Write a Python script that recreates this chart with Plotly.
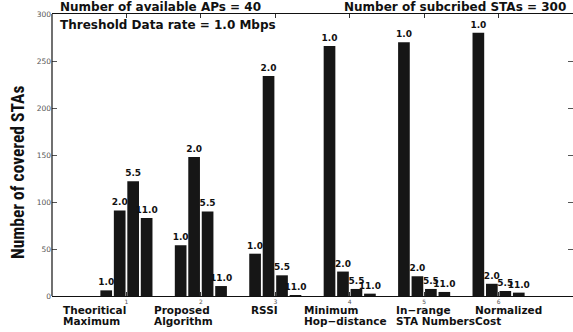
import plotly.graph_objects as go

# Scheme positions on the x axis and their two-line names
groups = [1, 2, 3, 4, 5, 6]
scheme_names = [
    ("Theoritical", "Maximum", 0.12),
    ("Proposed", "Algorithm", 1.35),
    ("RSSI", "", 2.65),
    ("Minimum", "Hop\u2212distance", 3.36),
    ("In\u2212range", "STA Numbers", 4.6),
    ("Normalized", "Cost", 5.66),
]

# Data rates (Mbps) and number of covered STAs per scheme
rate_labels = ["1.0", "2.0", "5.5", "11.0"]
covered_1_0 = [6, 54, 45, 266, 270, 280]
covered_2_0 = [91, 148, 234, 26, 21, 13]
covered_5_5 = [122, 90, 22, 7.5, 7.5, 5.3]
covered_11_0 = [83, 10.6, 1, 2.5, 4.3, 3.6]
series = [covered_1_0, covered_2_0, covered_5_5, covered_11_0]

y_ticks = [0, 50, 100, 150, 200, 250, 300]

BAR = "#161616"
INK = "#111"
LABEL_FONT = dict(family="DejaVu Sans", size=9, color=INK, weight="bold")
NAME_FONT = dict(family="DejaVu Sans", size=10.5, color=INK, weight="bold")
TITLE_FONT = dict(family="DejaVu Sans", size=12, color=INK, weight="bold")

fig = go.Figure()
for label, vals in zip(rate_labels, series):
    fig.add_trace(go.Bar(
        x=groups, y=vals, name=label,
        marker=dict(color=BAR, line=dict(width=0)),
        text=[label] * len(vals),
        textposition="outside",
        textfont=LABEL_FONT,
        constraintext="none",
        cliponaxis=False,
        showlegend=False,
    ))

annotations = [
    dict(text="Number of available APs = 40", xref="paper", yref="paper",
         x=0.012, y=1.0, yshift=7, xanchor="left", yanchor="middle",
         showarrow=False, font=TITLE_FONT),
    dict(text="Number of subcribed STAs = 300", xref="paper", yref="paper",
         x=1.0, y=1.0, yshift=7, xshift=-5, xanchor="right", yanchor="middle",
         showarrow=False, font=TITLE_FONT),
    dict(text="Threshold Data rate = 1.0 Mbps", xref="paper", yref="paper",
         x=0.012, y=1.0, yshift=-11, xanchor="left", yanchor="middle",
         showarrow=False, font=TITLE_FONT),
    dict(text="Number of covered STAs", xref="paper", yref="paper",
         x=0, xshift=-34, y=0.436, xanchor="center", yanchor="middle", textangle=-90,
         showarrow=False,
         font=dict(family="Noto Sans Condensed, Roboto Condensed, DejaVu Sans Condensed",
                   size=17.5, color=INK, weight="bold")),
]
for first, second, xpos in scheme_names:
    for text, shift in ((first, -14), (second, -25)):
        if text:
            annotations.append(dict(
                text=text, xref="x", yref="paper", x=xpos, y=0, yshift=shift,
                xanchor="left", yanchor="middle", align="left", showarrow=False,
                font=NAME_FONT))

fig.update_layout(
    width=573, height=332,
    margin=dict(l=52, r=0, t=14, b=36),
    paper_bgcolor="white", plot_bgcolor="white",
    barmode="group", bargap=0.276, bargroupgap=0.133,
    annotations=annotations,
    shapes=[dict(type="line", xref="paper", yref="paper", x0=0, x1=0, y0=0, y1=1,
                 line=dict(color=INK, width=1.2))],
    xaxis=dict(
        range=[0, 7], tickvals=groups, ticktext=[str(g) for g in groups],
        ticks="inside", ticklen=4, tickcolor="#333", mirror="ticks",
        showline=True, linecolor=INK, linewidth=1.2,
        showgrid=False, zeroline=False, ticklabelstandoff=0,
        tickfont=dict(family="DejaVu Sans", size=6, color="#555"),
    ),
    yaxis=dict(
        range=[0, 300], tickvals=y_ticks,
        ticks="inside", ticklen=5, tickcolor="#555", mirror="ticks",
        showline=False, showgrid=False, zeroline=False,
        tickfont=dict(family="DejaVu Sans", size=7.5, color="#555"),
    ),
)

fig.write_html("out.html")
